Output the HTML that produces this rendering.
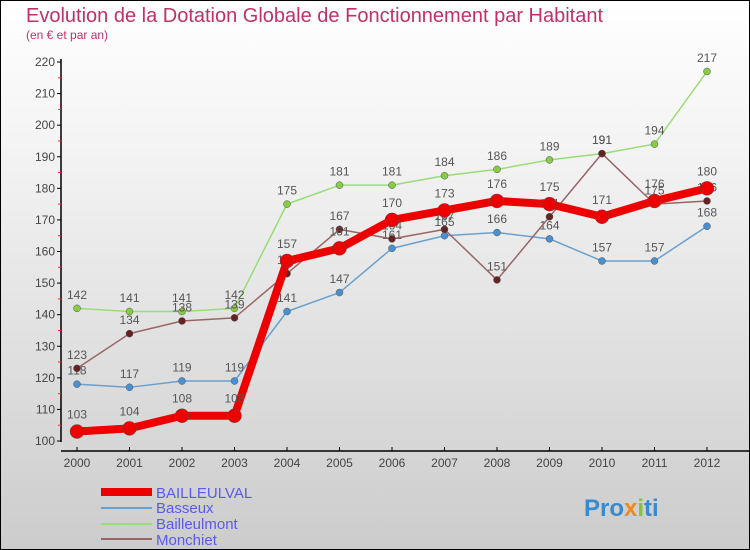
<!DOCTYPE html>
<html><head><meta charset="utf-8"><style>
body{margin:0}
#c{width:748px;height:548px;border:1px solid #000;position:relative;background:linear-gradient(#ffffff,#f2f2f2 30%,#cccccc);overflow:hidden;font-family:"Liberation Sans",sans-serif}
</style></head><body>
<div id="c">
<svg width="748" height="548" xmlns="http://www.w3.org/2000/svg" id="svg">
<text x="25" y="21" font-size="20" fill="#c0306a">Evolution de la Dotation Globale de Fonctionnement par Habitant</text>
<text x="25" y="38" font-size="12" fill="#c0306a">(en € et par an)</text>
<g id="axes"></g><g id="series"></g>
<g>
<line x1="100" y1="491" x2="151" y2="491" stroke="#e00" stroke-width="8"/>
<text x="155" y="497" font-size="15" fill="#5a5aee">BAILLEULVAL</text>
<line x1="100" y1="507" x2="151" y2="507" stroke="#6aa0d0" stroke-width="2"/>
<text x="155" y="512" font-size="15" fill="#5a5aee">Basseux</text>
<line x1="100" y1="523" x2="151" y2="523" stroke="#99dd77" stroke-width="2"/>
<text x="155" y="528" font-size="15" fill="#5a5aee">Bailleulmont</text>
<line x1="100" y1="538" x2="151" y2="538" stroke="#996666" stroke-width="2"/>
<text x="155" y="544" font-size="15" fill="#5a5aee">Monchiet</text>
</g>
<text x="583" y="515" font-size="24" font-weight="bold" fill="#3a8ad0">Pro<tspan fill="#f08a20">x</tspan><tspan fill="#88c040">i</tspan>ti</text>
</svg></div>
<script>
const years=[2000,2001,2002,2003,2004,2005,2006,2007,2008,2009,2010,2011,2012];
const bailleulval=[103,104,108,108,157,161,170,173,176,175,171,176,180];
const basseux=[118,117,119,119,141,147,161,165,166,164,157,157,168];
const bailleulmont=[142,141,141,142,175,181,181,184,186,189,191,194,217];
const monchiet=[123,134,138,139,153,167,164,167,151,171,191,175,176];
const yTicks=[100,110,120,130,140,150,160,170,180,190,200,210,220];
const NS="http://www.w3.org/2000/svg";
const xS=i=>76+i*52.5;
const yS=v=>440-(v-100)*(379/120);
function mk(t,a,p){const e=document.createElementNS(NS,t);for(const k in a)e.setAttribute(k,a[k]);p.appendChild(e);return e;}
const ax=document.getElementById('axes');
let e=mk('line',{x1:60,y1:58,x2:60,y2:441,stroke:'#000','stroke-width':1.5},ax);


e=mk('line',{x1:60,y1:450,x2:748,y2:450,stroke:'#000','stroke-width':1.5},ax);


yTicks.forEach(v=>{const y=yS(v);
mk('line',{x1:56,y1:y,x2:60,y2:y,stroke:'#000'},ax);
if(v<220)mk('line',{x1:57,y1:yS(v+5),x2:60,y2:yS(v+5),stroke:'#e33'},ax);
const t=mk('text',{x:54,y:y+4,'font-size':12,fill:'#444','text-anchor':'end'},ax);t.textContent=v;

});
years.forEach((yr,i)=>{const x=xS(i);
mk('line',{x1:x,y1:446,x2:x,y2:450,stroke:'#000'},ax);
const t=mk('text',{x:x,y:466,'font-size':12,fill:'#444','text-anchor':'middle'},ax);t.textContent=yr;

});
const sg=document.getElementById('series');
function draw(data,color,w,r,dot,name){
const g=mk('g',{},sg);


const p=mk('polyline',{points:data.map((v,i)=>xS(i)+','+yS(v)).join(' '),fill:'none',stroke:color,'stroke-width':w,'stroke-linejoin':'round'},g);
data.forEach((v,i)=>{const c=mk('circle',{cx:xS(i),cy:yS(v),r:r,fill:dot,stroke:'#555','stroke-width':0.5},g);


const t=mk('text',{x:xS(i),y:yS(v)-(r+6),'font-size':12,fill:'#555','text-anchor':'middle'},g);t.textContent=v;

});}
draw(bailleulmont,'#99dd77',1.5,3.5,'#88cc44','bailleulmont');
draw(basseux,'#6aa0d0',1.5,3.5,'#4a90d0','basseux');
draw(monchiet,'#996666',1.5,3.5,'#662222','monchiet');
draw(bailleulval,'#ee0000',8,7,'#ee0000','bailleulval');
</script>
</body></html>
